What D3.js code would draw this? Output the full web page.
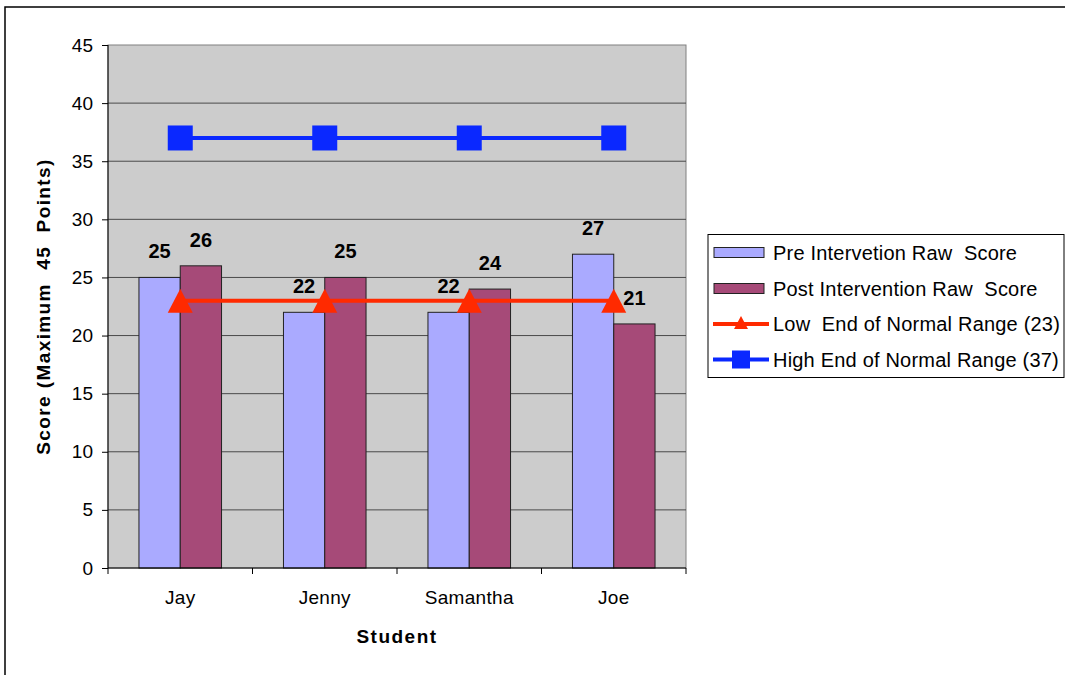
<!DOCTYPE html>
<html><head><meta charset="utf-8">
<script src="https://cdn.jsdelivr.net/npm/d3@7"></script>
<style>
body{margin:0;background:#fff;}
text{font-family:"Liberation Sans",Arial,sans-serif;}
</style></head>
<body><svg id="c" width="1065" height="675"></svg>
<script>
const students = ["Jay","Jenny","Samantha","Joe"];
const preScores = [25,22,22,27];
const postScores = [26,25,24,21];
const lowNormal = [23,23,23,23];
const highNormal = [37,37,37,37];
const yTicks = [0,5,10,15,20,25,30,35,40,45];
const seriesNames = ["Pre Intervetion Raw  Score","Post Intervention Raw  Score","Low  End of Normal Range (23)","High End of Normal Range (37)"];

const svg = d3.select("#c");
const L=108, R=686, T=45, B=568;
const x = d3.scaleBand().domain(students).range([L,R]).paddingInner(0).paddingOuter(0);
const bw = x.bandwidth();
const barW = bw/3.5;
const y = d3.scaleLinear().domain([0,45]).range([B,T]);

// outer border
svg.append("rect").attr("x",5).attr("y",7).attr("width",1080).attr("height",700)
  .attr("fill","none").attr("stroke","#000").attr("stroke-width",1.5);

// plot area
svg.append("rect").attr("x",L).attr("y",T).attr("width",R-L).attr("height",B-T)
  .attr("fill","#cccccc").attr("stroke","#808080").attr("stroke-width",1);

// gridlines
svg.append("g").selectAll("line").data(yTicks.filter(d=>d>0 && d<45)).join("line")
  .attr("x1",L).attr("x2",R).attr("y1",d=>y(d)).attr("y2",d=>y(d))
  .attr("stroke","#4a4a4a").attr("stroke-width",1);

// bars
const preX = s => x(s) + bw*0.75/3.5;
const postX = s => preX(s) + barW;
svg.append("g").selectAll("rect").data(students).join("rect")
  .attr("x",(d)=>preX(d)).attr("y",(d,i)=>y(preScores[i])).attr("width",barW)
  .attr("height",(d,i)=>B-y(preScores[i])).attr("fill","#aaaaff").attr("stroke","#222").attr("stroke-width",1);
svg.append("g").selectAll("rect").data(students).join("rect")
  .attr("x",(d)=>postX(d)).attr("y",(d,i)=>y(postScores[i])).attr("width",barW)
  .attr("height",(d,i)=>B-y(postScores[i])).attr("fill","#a64a78").attr("stroke","#222").attr("stroke-width",1);

// axes
const yAxis = d3.axisLeft(y).tickValues(yTicks).tickSize(6).tickPadding(9);
const gy = svg.append("g").attr("transform",`translate(${L},0)`).call(yAxis);
gy.select(".domain").attr("stroke","#000").attr("d",`M0,${T}V${B}`);
gy.selectAll(".tick line").attr("stroke","#000");
gy.selectAll("text").attr("font-size",19).attr("fill","#000").style("font-family","Liberation Sans, Arial, sans-serif");

svg.append("line").attr("x1",L).attr("x2",R).attr("y1",B).attr("y2",B).attr("stroke","#000").attr("stroke-width",1.2);
const bounds = students.map(s=>x(s)).concat([R]);
svg.append("g").selectAll("line").data(bounds).join("line")
  .attr("x1",d=>d).attr("x2",d=>d).attr("y1",B).attr("y2",B+6).attr("stroke","#000");
svg.append("g").selectAll("text").data(students).join("text")
  .attr("x",d=>x(d)+bw/2).attr("y",604).attr("text-anchor","middle")
  .attr("font-size",19).attr("letter-spacing",0.3).text(d=>d);

// lines
const cx = s => x(s)+bw/2;
const lineGen = d3.line().x((d,i)=>cx(students[i])).y(d=>y(d));
svg.append("path").datum(highNormal).attr("d",lineGen).attr("fill","none").attr("stroke","#0a28ff").attr("stroke-width",4);
svg.append("g").selectAll("rect").data(highNormal).join("rect")
  .attr("x",(d,i)=>cx(students[i])-12.5).attr("y",d=>y(d)-12.5).attr("width",25).attr("height",25).attr("fill","#0a28ff");
svg.append("path").datum(lowNormal).attr("d",lineGen).attr("fill","none").attr("stroke","#ff2a00").attr("stroke-width",4);
svg.append("g").selectAll("path.tri").data(lowNormal).join("path")
  .attr("d",(d,i)=>{const X=cx(students[i]),Y=y(d);return `M${X},${Y-12}L${X+12.5},${Y+12}L${X-12.5},${Y+12}Z`;})
  .attr("fill","#ff2a00");

// data labels
svg.append("g").selectAll("text").data(students).join("text")
  .attr("x",d=>preX(d)+barW/2).attr("y",(d,i)=>y(preScores[i])-19).attr("text-anchor","middle")
  .attr("font-size",20).attr("font-weight","bold").text((d,i)=>preScores[i]);
svg.append("g").selectAll("text").data(students).join("text")
  .attr("x",d=>postX(d)+barW/2).attr("y",(d,i)=>y(postScores[i])-19).attr("text-anchor","middle")
  .attr("font-size",20).attr("font-weight","bold").text((d,i)=>postScores[i]);

// axis titles
svg.append("text").attr("transform",`translate(50,${(T+B)/2}) rotate(-90)`).attr("text-anchor","middle")
  .attr("font-size",19).attr("font-weight","bold").attr("letter-spacing",1.4).style("white-space","pre").text("Score (Maximum  45  Points)");
svg.append("text").attr("x",(L+R)/2).attr("y",643).attr("text-anchor","middle")
  .attr("font-size",19).attr("font-weight","bold").attr("letter-spacing",1.5).text("Student");

// legend
const lg = svg.append("g");
lg.append("rect").attr("x",708).attr("y",234.5).attr("width",356).attr("height",143).attr("fill","#fff").attr("stroke","#000");
const rowY = [252.5,288.5,324,359.5];
lg.append("rect").attr("x",714).attr("y",rowY[0]-5).attr("width",50).attr("height",10).attr("fill","#aaaaff").attr("stroke","#222");
lg.append("rect").attr("x",714).attr("y",rowY[1]-5).attr("width",50).attr("height",10).attr("fill","#a64a78").attr("stroke","#222");
lg.append("line").attr("x1",713).attr("x2",769).attr("y1",rowY[2]).attr("y2",rowY[2]).attr("stroke","#ff2a00").attr("stroke-width",4);
lg.append("path").attr("d",`M741,${rowY[2]-8}L748,${rowY[2]+5}L734,${rowY[2]+5}Z`).attr("fill","#ff2a00");
lg.append("line").attr("x1",713).attr("x2",769).attr("y1",rowY[3]).attr("y2",rowY[3]).attr("stroke","#0a28ff").attr("stroke-width",4);
lg.append("rect").attr("x",732).attr("y",rowY[3]-9).attr("width",18).attr("height",18).attr("fill","#0a28ff");
lg.selectAll("text.l").data(seriesNames).join("text")
  .attr("x",773).attr("y",(d,i)=>rowY[i]+7).attr("font-size",20).attr("letter-spacing",0.2).style("white-space","pre").text(d=>d);
</script></body></html>
